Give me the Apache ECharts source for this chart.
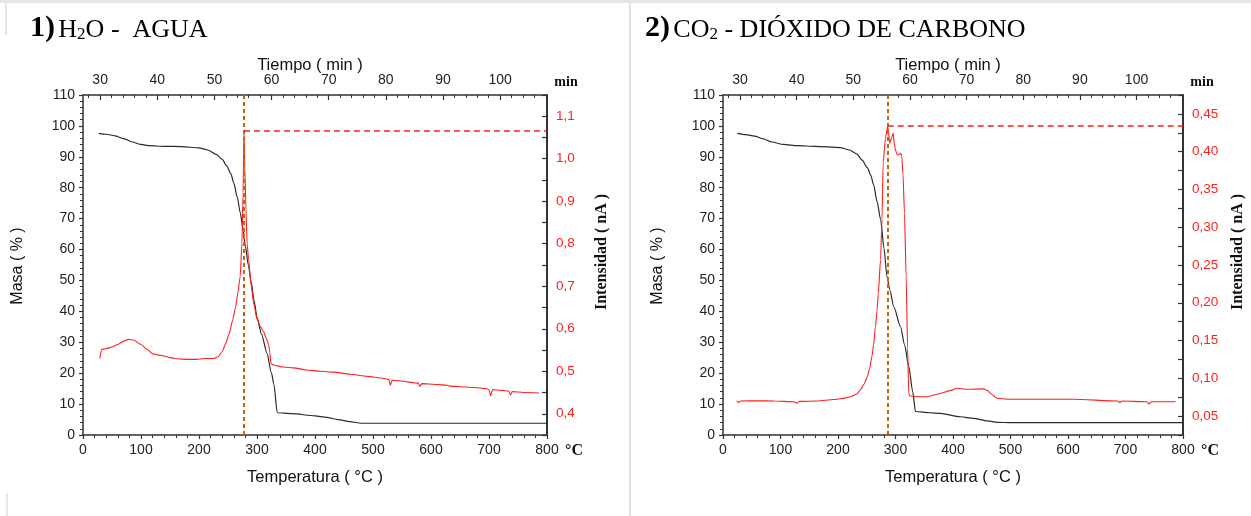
<!DOCTYPE html>
<html>
<head>
<meta charset="utf-8">
<script src="https://cdn.jsdelivr.net/npm/echarts@6/dist/echarts.min.js"></script>
<style>
  html, body { margin: 0; padding: 0; background: #fff; }
  #chart { width: 1251px; height: 516px; }
</style>
</head>
<body>
<div id="chart"></div>
<script>
// ---- H2O panel: mass loss (TG) and ion current for water ----
const h2oMassT = [27, 40, 55, 70, 85, 100, 115, 140, 170, 200, 215, 230, 240, 248, 255, 260, 266, 271, 276, 280, 285, 290, 295, 300, 308, 317, 325, 329, 335, 360, 400, 420, 440, 460, 480, 600, 800];
const h2oMass  = [97.6, 97.3, 96.8, 95.9, 94.8, 94.0, 93.6, 93.4, 93.3, 92.9, 92.2, 90.8, 89.2, 87.0, 84.5, 81.5, 77.0, 72.0, 66.5, 61.0, 55.0, 49.5, 43.5, 38.0, 32.5, 26.6, 20.0, 16.5, 7.2, 6.9, 6.2, 5.7, 5.0, 4.3, 3.8, 3.8, 3.8];
const h2oIntT  = [29, 32, 40, 50, 60, 70, 78, 88, 100, 110, 120, 135, 150, 165, 180, 195, 210, 225, 233, 240, 246, 252, 258, 263, 267, 271, 274, 276, 277.5, 279, 281, 283, 285.5, 290, 295, 300, 306, 311, 316, 320, 322, 324, 330, 345, 363, 385, 409, 432, 460, 490, 515, 527, 530, 533, 555, 570, 578, 581, 584, 610, 628, 632, 660, 697, 700, 703, 706, 720, 734, 737, 740, 760, 786];
const h2oInt   = [0.530, 0.551, 0.553, 0.557, 0.563, 0.571, 0.575, 0.573, 0.563, 0.552, 0.541, 0.537, 0.532, 0.529, 0.528, 0.528, 0.530, 0.530, 0.534, 0.546, 0.565, 0.588, 0.620, 0.650, 0.685, 0.723, 0.800, 0.920, 1.065, 0.980, 0.880, 0.800, 0.762, 0.700, 0.655, 0.622, 0.605, 0.594, 0.578, 0.563, 0.545, 0.518, 0.514, 0.510, 0.508, 0.503, 0.500, 0.498, 0.493, 0.488, 0.484, 0.481, 0.467, 0.479, 0.476, 0.473, 0.472, 0.464, 0.471, 0.469, 0.467, 0.465, 0.463, 0.459, 0.456, 0.442, 0.457, 0.455, 0.453, 0.444, 0.452, 0.450, 0.449];

// ---- CO2 panel ----
const co2MassT = [25, 40, 55, 70, 85, 105, 130, 160, 204, 220, 233, 242, 251, 257, 262, 268, 274, 280, 285, 290, 297, 308.6, 316, 323, 330, 334.7, 360, 378, 413, 436, 460, 477, 500, 800];
const co2Mass  = [97.6, 97.2, 96.7, 95.8, 94.8, 94.0, 93.6, 93.4, 93.0, 92.2, 90.9, 88.9, 86.5, 84.0, 80.9, 75.5, 69.8, 60.5, 51.4, 47.0, 41.5, 35.1, 29.0, 22.2, 14.0, 7.6, 7.2, 7.0, 5.9, 5.4, 4.6, 4.1, 4.0, 4.0];
const co2IntT  = [24, 27, 30, 60, 90, 123, 129, 133, 164, 192, 210, 222, 232, 239, 245, 251, 255, 259, 262, 265, 268, 270, 274, 276.5, 278.5, 282.5, 286.5, 290, 293, 296, 298, 300, 303, 306, 309, 311, 313, 315.6, 318.5, 321, 323, 325, 340, 355, 378, 395, 407, 425, 453, 460, 465, 477, 494, 550, 610, 686, 690, 694, 737, 741, 745, 787];
const co2Int   = [0.0704, 0.0678, 0.0700, 0.0702, 0.0700, 0.0690, 0.0670, 0.0695, 0.0700, 0.0720, 0.0735, 0.0757, 0.0790, 0.0846, 0.0920, 0.1020, 0.1130, 0.1290, 0.1450, 0.1680, 0.1900, 0.2120, 0.2570, 0.3100, 0.3850, 0.4180, 0.4340, 0.4110, 0.4180, 0.4246, 0.4100, 0.4020, 0.3960, 0.3960, 0.3980, 0.3940, 0.3700, 0.3190, 0.2350, 0.1400, 0.0800, 0.0767, 0.0757, 0.0757, 0.0800, 0.0837, 0.0869, 0.0855, 0.0860, 0.0840, 0.0800, 0.0736, 0.0723, 0.0723, 0.0723, 0.0700, 0.0680, 0.0700, 0.0690, 0.0660, 0.0690, 0.0690];

// Axis tick values
const timeLabels = [30, 40, 50, 60, 70, 80, 90, 100];
const timeMinorTicks = [28, 32, 34, 36, 38, 42, 44, 46, 48, 52, 54, 56, 58, 62, 64, 66, 68, 72, 74, 76, 78, 82, 84, 86, 88, 92, 94, 96, 98, 102, 104, 106, 108];

const pairs = (xs, ys) => xs.map((x, i) => [x, ys[i]]);
const peakOf = (xs, ys) => {
  let k = 0;
  ys.forEach((v, i) => { if (v > ys[k]) k = i; });
  return [xs[k], ys[k]];
};

const AXIS = '#333';
const RED = '#ff1f1f';
const ORANGE = '#c8650c';
const SANS = '"Liberation Sans", Arial, sans-serif';
const SERIF = '"Liberation Serif", "Times New Roman", serif';

const grids = [
  { left: 83, top: 95, width: 464, height: 340 },
  { left: 723, top: 95, width: 460, height: 340 }
];

const xAxes = [];
const yAxes = [];
const series = [];

function buildPanel(g, massT, mass, intT, int, intMin, intMax, intStep, labelStep, decimals) {
  const xBase = xAxes.length;
  const yBase = yAxes.length;
  // bottom temperature axis
  xAxes.push({
    type: 'value', gridIndex: g, position: 'bottom', min: 0, max: 800, interval: 100,
    axisLine: { show: true, lineStyle: { color: AXIS, width: 1.5 } },
    axisTick: { show: true, length: 4, lineStyle: { color: AXIS, width: 1.2 } },
    minorTick: { show: true, splitNumber: 5, length: 3, lineStyle: { color: AXIS, width: 1 } },
    axisLabel: { color: '#222', fontSize: 14, fontFamily: SANS, margin: 8 },
    splitLine: { show: false }
  });
  // top time axis: labels and major ticks
  xAxes.push({
    type: 'value', gridIndex: g, position: 'top', min: 27, max: 108.2,
    axisLine: { show: true, lineStyle: { color: AXIS, width: 1.5 } },
    axisTick: { show: true, inside: true, length: 5, customValues: timeLabels, lineStyle: { color: AXIS, width: 1.2 } },
    axisLabel: { color: '#222', fontSize: 14, fontFamily: SANS, margin: 8, customValues: timeLabels },
    splitLine: { show: false }
  });
  // top time axis: minor ticks
  xAxes.push({
    type: 'value', gridIndex: g, position: 'top', min: 27, max: 108.2,
    axisLine: { show: false },
    axisTick: { show: true, inside: true, length: 3, customValues: timeMinorTicks, lineStyle: { color: AXIS, width: 1 } },
    axisLabel: { show: false, customValues: [] },
    splitLine: { show: false }
  });
  // left mass axis
  yAxes.push({
    type: 'value', gridIndex: g, position: 'left', min: 0, max: 110, interval: 10,
    axisLine: { show: true, lineStyle: { color: AXIS, width: 1.5 } },
    axisTick: { show: true, length: 4, lineStyle: { color: AXIS, width: 1.2 } },
    minorTick: { show: true, splitNumber: 5, length: 3, lineStyle: { color: AXIS, width: 1 } },
    axisLabel: { color: '#222', fontSize: 14, fontFamily: SANS, margin: 8 },
    splitLine: { show: false }
  });
  // right intensity axis
  yAxes.push({
    type: 'value', gridIndex: g, position: 'right', min: intMin, max: intMax, interval: intStep,
    axisLine: { show: true, lineStyle: { color: AXIS, width: 2 } },
    axisTick: { show: true, inside: true, length: 5, lineStyle: { color: AXIS, width: 1.2 } },
    axisLabel: {
      color: RED, fontSize: 13.5, fontFamily: SANS, margin: 9,
      formatter: v => {
        const n = Math.round(v / labelStep * 1000) / 1000;
        if (Math.abs(n - Math.round(n)) > 1e-6) return '';
        if (v <= intMin + 1e-9 || v >= intMax - 1e-9) return '';
        return v.toFixed(decimals).replace('.', ',');
      }
    },
    splitLine: { show: false }
  });

  const [pkT, pkI] = peakOf(intT, int);
  series.push({
    type: 'line', xAxisIndex: xBase, yAxisIndex: yBase, data: pairs(massT, mass),
    showSymbol: false, smooth: 0.25, smoothMonotone: 'x',
    lineStyle: { color: '#2a2a2a', width: 1.2 }, z: 3,
    markLine: {
      silent: true, symbol: ['none', 'none'], label: { show: false },
      lineStyle: { color: ORANGE, width: 2, type: [4, 3] },
      data: [{ xAxis: pkT }]
    }
  });
  series.push({
    type: 'line', xAxisIndex: xBase, yAxisIndex: yBase + 1, data: pairs(intT, int),
    showSymbol: false, smooth: 0.2, smoothMonotone: 'x',
    lineStyle: { color: RED, width: 1.1 }, z: 4,
    markLine: {
      silent: true, symbol: ['none', 'none'], label: { show: false },
      lineStyle: { color: RED, width: 1.6, type: [6, 4] },
      data: [[{ coord: [pkT, pkI] }, { coord: [800, pkI] }]]
    }
  });
}

buildPanel(0, h2oMassT, h2oMass, h2oIntT, h2oInt, 0.35, 1.15, 0.05, 0.1, 1);
buildPanel(1, co2MassT, co2Mass, co2IntT, co2Int, 0.025, 0.475, 0.025, 0.05, 2);

function txt(x, y, text, opt) {
  return Object.assign({
    type: 'text', x: x, y: y,
    style: Object.assign({ text: text, fill: '#111', textAlign: 'center', textVerticalAlign: 'middle' }, opt.style || {})
  }, opt.el || {});
}

const titleRich = {
  b: { fontFamily: SERIF, fontWeight: 'bold', fontSize: 30, fill: '#000', verticalAlign: 'bottom' },
  r: { fontFamily: SERIF, fontSize: 26, fill: '#000', verticalAlign: 'bottom' },
  s: { fontFamily: SERIF, fontSize: 17, fill: '#000', verticalAlign: 'bottom' }
};

const graphic = [
  // page frame lines
  { type: 'rect', shape: { x: 0, y: 0, width: 1251, height: 3 }, style: { fill: '#e6e6e6' } },
  { type: 'rect', shape: { x: 629, y: 3, width: 2, height: 513 }, style: { fill: '#e3e3e3' } },
  { type: 'rect', shape: { x: 5, y: 3, width: 2, height: 32 }, style: { fill: '#e6e6e6' } },
  { type: 'rect', shape: { x: 6, y: 493, width: 2, height: 23 }, style: { fill: '#e6e6e6' } },
  // panel titles
  {
    type: 'text', x: 30, y: 43,
    style: { text: '{b|1)} {r|H}{s|2}{r|O -  AGUA}', textVerticalAlign: 'bottom', rich: titleRich }
  },
  {
    type: 'text', x: 645, y: 43,
    style: { text: '{b|2)} {r|CO}{s|2}{r| - DIÓXIDO DE CARBONO}', textVerticalAlign: 'bottom', rich: titleRich }
  }
];

// axis titles for both panels
[[0, 83, 547], [1, 723, 1183]].forEach(([g, l, r]) => {
  const mid = (l + r) / 2;
  graphic.push(txt(mid - 5, 65, 'Tiempo ( min )', { style: { font: '16.5px ' + SANS } }));
  graphic.push(txt(mid, 477, 'Temperatura ( °C )', { style: { font: '16.5px ' + SANS } }));
  graphic.push(txt(l - 65, 266, 'Masa ( % )', { style: { font: '16px ' + SANS }, el: { rotation: Math.PI / 2 } }));
  graphic.push(txt(r + 55, 252, 'Intensidad ( nA )', { style: { font: 'bold 16px ' + SERIF }, el: { rotation: Math.PI / 2 } }));
  graphic.push(txt(r + 19, 82, 'min', { style: { font: 'bold 14px ' + SERIF } }));
  graphic.push(txt(r + 27, 451, '°C', { style: { font: 'bold 16px ' + SERIF } }));
});

const chart = echarts.init(document.getElementById('chart'), null, { renderer: 'canvas' });
chart.setOption({
  animation: false,
  backgroundColor: '#fff',
  grid: grids,
  xAxis: xAxes,
  yAxis: yAxes,
  series: series,
  graphic: graphic
});
</script>
</body>
</html>
